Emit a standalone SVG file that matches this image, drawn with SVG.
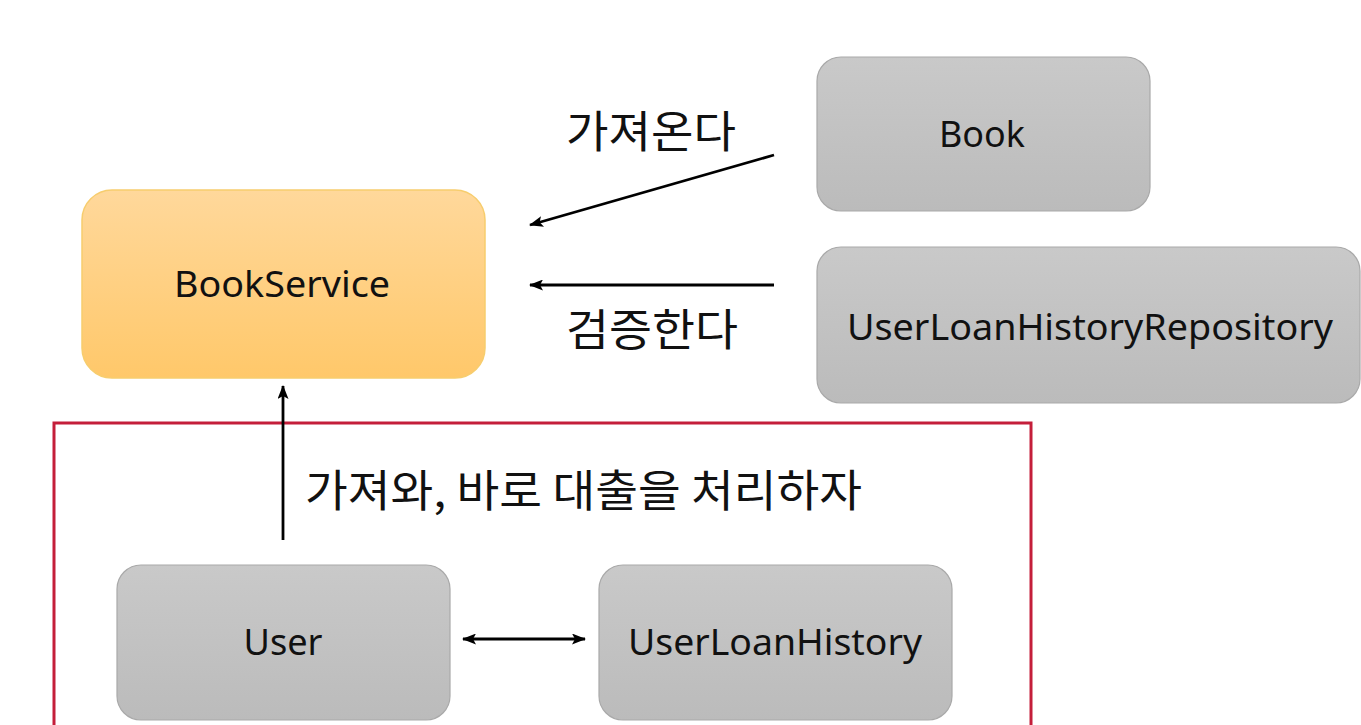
<svg xmlns="http://www.w3.org/2000/svg" width="1361" height="725" viewBox="0 0 1361 725">
  <style>
    .gray { fill: url(#gGray); stroke: #A9A9A9; stroke-width: 1.2; }
    .orange { fill: url(#gOrange); stroke: #F7CD6E; stroke-width: 1.5; }
    .lbl { font-family: "Noto Sans", "Open Sans", "Liberation Sans", sans-serif; font-size: 37px; fill: #111; text-anchor: middle; }
    .ko { font-family: "Noto Sans CJK KR", "Noto Sans", sans-serif; font-size: 44px; fill: #111; }
    .con { stroke: #000; stroke-width: 2.8; fill: none; }
  </style>
  <defs>
    <linearGradient id="gGray" x1="0" y1="0" x2="0" y2="1">
      <stop offset="0" stop-color="#C9C9C9"/>
      <stop offset="1" stop-color="#BBBBBB"/>
    </linearGradient>
    <linearGradient id="gOrange" x1="0" y1="0" x2="0" y2="1">
      <stop offset="0" stop-color="#FFD89B"/>
      <stop offset="1" stop-color="#FFC86A"/>
    </linearGradient>
    <marker id="ah" viewBox="0 0 14 11" refX="13" refY="5.5" markerWidth="14" markerHeight="11" markerUnits="userSpaceOnUse" orient="auto-start-reverse">
      <path d="M0,0 L14,5.5 L0,11 L3,5.5 Z" fill="#000"/>
    </marker>
  </defs>
  <rect width="1361" height="725" fill="#FFFFFF"/>

  <rect id="group-box" x="54" y="423" width="977" height="320" fill="none" stroke="#C41E3A" stroke-width="3"/>

  <g id="node-book">
    <rect class="gray" x="817" y="57" width="333" height="154" rx="24"/>
    <text class="lbl" x="982" y="147" textLength="86" lengthAdjust="spacingAndGlyphs">Book</text>
  </g>
  <g id="node-repo">
    <rect class="gray" x="817" y="247" width="543" height="156" rx="24"/>
    <text class="lbl" x="1090" y="340" textLength="486" lengthAdjust="spacingAndGlyphs">UserLoanHistoryRepository</text>
  </g>
  <g id="node-bookservice">
    <rect class="orange" x="82" y="190" width="403" height="188" rx="30"/>
    <text class="lbl" x="282" y="297" textLength="216" lengthAdjust="spacingAndGlyphs">BookService</text>
  </g>
  <g id="node-user">
    <rect class="gray" x="117" y="565" width="333" height="155" rx="24"/>
    <text class="lbl" x="283" y="655" textLength="79" lengthAdjust="spacingAndGlyphs">User</text>
  </g>
  <g id="node-userloanhistory">
    <rect class="gray" x="599" y="565" width="353" height="155" rx="24"/>
    <text class="lbl" x="775" y="655" textLength="294" lengthAdjust="spacingAndGlyphs">UserLoanHistory</text>
  </g>

  <g id="connectors">
    <line class="con" x1="774" y1="155" x2="530" y2="225" marker-end="url(#ah)"/>
    <line class="con" x1="774" y1="285" x2="530" y2="285" marker-end="url(#ah)"/>
    <line class="con" x1="283" y1="540" x2="283" y2="386" marker-end="url(#ah)"/>
    <line class="con" x1="463" y1="639" x2="585" y2="639" marker-start="url(#ah)" marker-end="url(#ah)"/>
  </g>

  <g id="labels">
    <text class="ko" x="566" y="148" textLength="170" lengthAdjust="spacingAndGlyphs">가져온다</text>
    <text class="ko" x="566" y="346" textLength="172" lengthAdjust="spacingAndGlyphs">검증한다</text>
    <text class="ko" x="305" y="507" textLength="557" lengthAdjust="spacingAndGlyphs">가져와, 바로 대출을 처리하자</text>
  </g>
</svg>
